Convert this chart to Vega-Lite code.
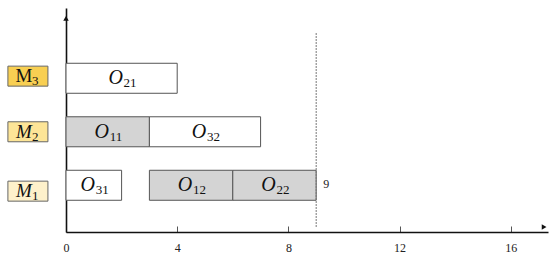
{
  "$schema": "https://vega.github.io/schema/vega-lite/v6.json",
  "autosize": {"type": "none"},
  "padding": {"left": 66, "top": 8, "right": 2, "bottom": 23},
  "width": 482,
  "height": 224,
  "background": "white",
  "config": {"view": {"stroke": null}},
  "resolve": {"scale": {"fill": "independent"}},
  "datasets": {
    "ops": [
      {"op": "O21", "sub": "21", "machine": "M3", "row": 3, "start": 0, "end": 4, "mid": 2, "critical": "no"},
      {"op": "O11", "sub": "11", "machine": "M2", "row": 2, "start": 0, "end": 3, "mid": 1.5, "critical": "yes"},
      {"op": "O32", "sub": "32", "machine": "M2", "row": 2, "start": 3, "end": 7, "mid": 5, "critical": "no"},
      {"op": "O31", "sub": "31", "machine": "M1", "row": 1, "start": 0, "end": 2, "mid": 1, "critical": "no"},
      {"op": "O12", "sub": "12", "machine": "M1", "row": 1, "start": 3, "end": 6, "mid": 4.5, "critical": "yes"},
      {"op": "O22", "sub": "22", "machine": "M1", "row": 1, "start": 6, "end": 9, "mid": 7.5, "critical": "yes"}
    ],
    "machines": [
      {"machine": "M3", "sub": "3", "italic": "no", "y": 3.04, "x0": -2.09, "x1": -0.65, "mid": -1.37},
      {"machine": "M2", "sub": "2", "italic": "yes", "y": 2.0, "x0": -2.09, "x1": -0.65, "mid": -1.37},
      {"machine": "M1", "sub": "1", "italic": "yes", "y": 0.89, "x0": -2.09, "x1": -0.65, "mid": -1.37}
    ],
    "makespan": [{"t": 9, "y0": 0.22, "y1": 3.85, "row": 1, "label": "9"}],
    "arrows": [
      {"x": 17.2, "y": 0.22, "dir": "right"},
      {"x": 0, "y": 4.12, "dir": "up"}
    ]
  },
  "layer": [
    {
      "data": {"name": "ops"},
      "mark": {"type": "bar", "orient": "horizontal", "size": 30, "stroke": "#555555", "strokeWidth": 1},
      "encoding": {
        "x": {"field": "start", "type": "quantitative",
          "scale": {"domain": [0, 17.34], "nice": false, "zero": false},
          "axis": {"values": [0, 4, 8, 12, 16], "title": null, "grid": false,
            "domainColor": "#111111", "domainWidth": 1.6,
            "tickColor": "#555555", "tickSize": -6, "tickWidth": 1,
            "labelFont": "Liberation Serif, DejaVu Serif, serif", "labelFontSize": 12, "labelColor": "#222222",
            "labelPadding": 16, "labelFlush": false}},
        "x2": {"field": "end"},
        "y": {"field": "row", "type": "quantitative",
          "scale": {"domain": [0.22, 4.22], "nice": false, "zero": false},
          "axis": {"title": null, "labels": false, "ticks": false, "grid": false,
            "domainColor": "#111111", "domainWidth": 1.6}},
        "fill": {"field": "critical", "type": "nominal",
          "scale": {"domain": ["no", "yes"], "range": ["#ffffff", "#d4d4d4"]}, "legend": null}
      }
    },
    {
      "data": {"name": "ops"},
      "mark": {"type": "text", "font": "Liberation Serif, DejaVu Serif, serif", "fontStyle": "italic", "fontSize": 20, "dx": -6, "dy": 0, "color": "#111111", "baseline": "middle"},
      "encoding": {
        "x": {"field": "mid", "type": "quantitative"},
        "y": {"field": "row", "type": "quantitative"},
        "text": {"value": "O"}
      }
    },
    {
      "data": {"name": "ops"},
      "mark": {"type": "text", "font": "Liberation Serif, DejaVu Serif, serif", "fontSize": 13, "dx": 2, "dy": 5, "align": "left", "color": "#111111", "baseline": "middle"},
      "encoding": {
        "x": {"field": "mid", "type": "quantitative"},
        "y": {"field": "row", "type": "quantitative"},
        "text": {"field": "sub"}
      }
    },
    {
      "data": {"name": "machines"},
      "mark": {"type": "bar", "orient": "horizontal", "size": 20, "stroke": "#666666", "strokeWidth": 1},
      "encoding": {
        "x": {"field": "x0", "type": "quantitative"},
        "x2": {"field": "x1"},
        "y": {"field": "y", "type": "quantitative"},
        "fill": {"field": "machine", "type": "nominal",
          "scale": {"domain": ["M1", "M2", "M3"], "range": ["#fef1cb", "#fde597", "#f8cf52"]}, "legend": null}
      }
    },
    {
      "data": {"name": "machines"},
      "transform": [{"filter": "datum.italic == 'yes'"}],
      "mark": {"type": "text", "font": "Liberation Serif, DejaVu Serif, serif", "fontStyle": "italic", "fontSize": 19, "dx": -4, "dy": 0, "color": "#111111", "baseline": "middle"},
      "encoding": {
        "x": {"field": "mid", "type": "quantitative"},
        "y": {"field": "y", "type": "quantitative"},
        "text": {"value": "M"}
      }
    },
    {
      "data": {"name": "machines"},
      "transform": [{"filter": "datum.italic == 'no'"}],
      "mark": {"type": "text", "font": "Liberation Serif, DejaVu Serif, serif", "fontSize": 19, "dx": -4, "dy": 0, "color": "#111111", "baseline": "middle"},
      "encoding": {
        "x": {"field": "mid", "type": "quantitative"},
        "y": {"field": "y", "type": "quantitative"},
        "text": {"value": "M"}
      }
    },
    {
      "data": {"name": "machines"},
      "mark": {"type": "text", "font": "Liberation Serif, DejaVu Serif, serif", "fontSize": 13, "dx": 4, "dy": 5, "align": "left", "color": "#111111", "baseline": "middle"},
      "encoding": {
        "x": {"field": "mid", "type": "quantitative"},
        "y": {"field": "y", "type": "quantitative"},
        "text": {"field": "sub"}
      }
    },
    {
      "data": {"name": "makespan"},
      "mark": {"type": "rule", "color": "#777777", "strokeWidth": 1, "strokeDash": [2, 1]},
      "encoding": {
        "x": {"field": "t", "type": "quantitative"},
        "y": {"field": "y0", "type": "quantitative"},
        "y2": {"field": "y1"}
      }
    },
    {
      "data": {"name": "makespan"},
      "mark": {"type": "text", "font": "Liberation Serif, DejaVu Serif, serif", "fontSize": 12, "dx": 10, "dy": -1, "color": "#222222", "align": "center", "baseline": "middle"},
      "encoding": {
        "x": {"field": "t", "type": "quantitative"},
        "y": {"field": "row", "type": "quantitative"},
        "text": {"field": "label"}
      }
    },
    {
      "data": {"name": "arrows"},
      "transform": [{"filter": "datum.dir == 'right'"}],
      "mark": {"type": "point", "shape": "triangle-right", "filled": true, "color": "#111111", "size": 30, "opacity": 1},
      "encoding": {
        "x": {"field": "x", "type": "quantitative"},
        "y": {"field": "y", "type": "quantitative"}
      }
    },
    {
      "data": {"name": "arrows"},
      "transform": [{"filter": "datum.dir == 'up'"}],
      "mark": {"type": "point", "shape": "triangle-up", "filled": true, "color": "#111111", "size": 30, "opacity": 1},
      "encoding": {
        "x": {"field": "x", "type": "quantitative"},
        "y": {"field": "y", "type": "quantitative"}
      }
    }
  ]
}
